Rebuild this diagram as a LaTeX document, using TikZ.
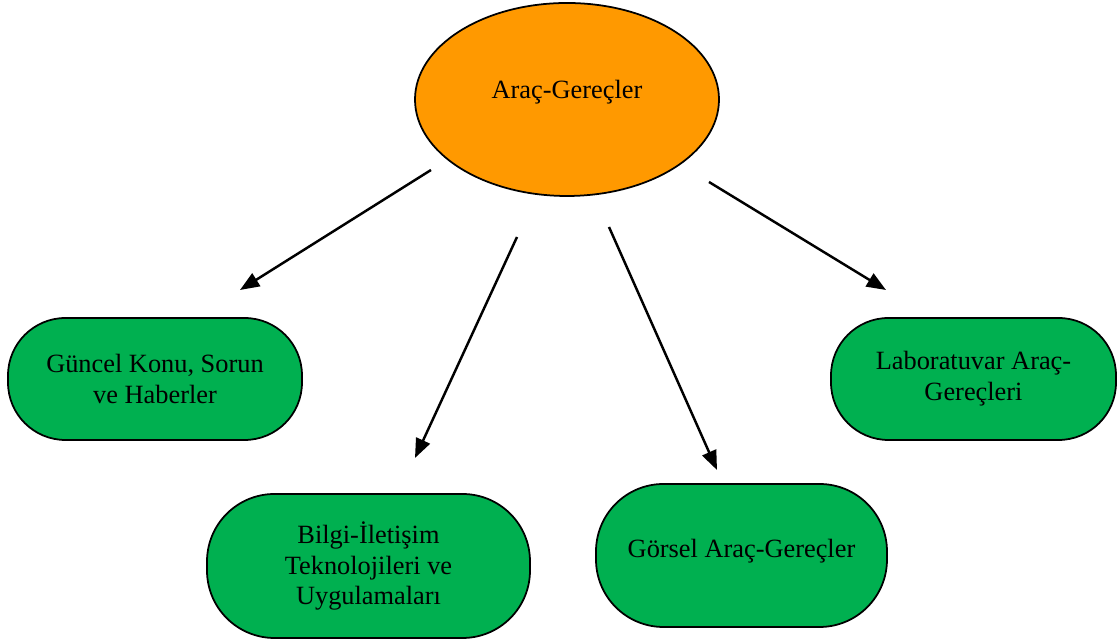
\documentclass[tikz,border=0pt]{standalone}
\usepackage{fontspec}
\setmainfont{Liberation Serif}
\usetikzlibrary{
  shapes.geometric,
  arrows.meta
}
\definecolor{toolorange}{HTML}{FF9900}
\definecolor{toolgreen}{HTML}{00B050}

\begin{document}
\begin{tikzpicture}[
  every node/.style={font=\fontsize{15}{17.6}\selectfont, align=center},
  mainnode/.style={ellipse, draw, line width=1pt, fill=toolorange,
    minimum width=6.08cm, minimum height=3.86cm},
  topicbox/.style={rectangle, draw, line width=1pt, fill=toolgreen,
    rounded corners=1.15cm, inner sep=0pt},
  link/.style={line width=1.4pt, -{Triangle[length=11pt,width=8.5pt]}}
]
\useasboundingbox (0,0) rectangle (22.36,12.8);
\node[mainnode] (tools) at (11.34,10.81) {\raisebox{11pt}{Araç-Gereçler}};
\node[topicbox, minimum width=5.88cm, minimum height=2.44cm] (news) at (3.10,5.22) {Güncel Konu, Sorun\\ve Haberler};
\node[topicbox, minimum width=6.46cm, minimum height=2.88cm, rounded corners=1.35cm] (ict) at (7.37,1.48) {Bilgi-İletişim\\Teknolojileri ve\\Uygulamaları};
\node[topicbox, minimum width=5.82cm, minimum height=2.86cm, rounded corners=1.35cm] (visual) at (14.83,1.69) {\raisebox{8pt}{Görsel Araç-Gereçler}};
\node[topicbox, minimum width=5.70cm, minimum height=2.44cm] (lab) at (19.47,5.22) {Laboratuvar Araç-\\Gereçleri};
% arrows stand free of the shapes
\coordinate (news-from) at (8.62,9.40);
\coordinate (news-to) at (4.80,7.00);
\coordinate (ict-from) at (10.34,8.06);
\coordinate (ict-to) at (8.30,3.64);
\coordinate (visual-from) at (12.18,8.26);
\coordinate (visual-to) at (14.34,3.40);
\coordinate (lab-from) at (14.18,9.16);
\coordinate (lab-to) at (17.72,7.00);
\draw[link] (news-from) -- (news-to);
\draw[link] (ict-from) -- (ict-to);
\draw[link] (visual-from) -- (visual-to);
\draw[link] (lab-from) -- (lab-to);
\end{tikzpicture}
\end{document}
